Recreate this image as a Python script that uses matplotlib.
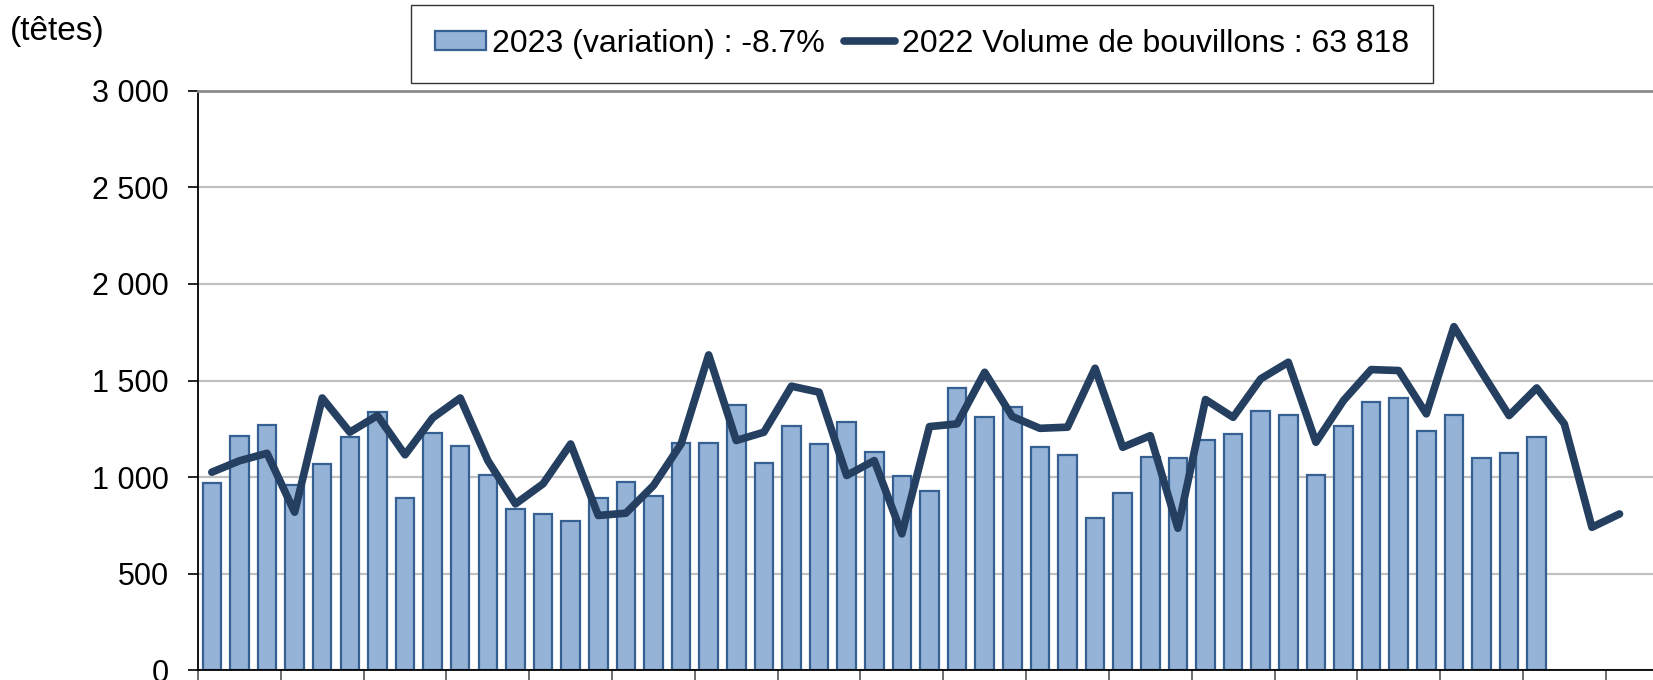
import matplotlib.pyplot as plt
import matplotlib
import numpy as np

matplotlib.rc('font', family=['Liberation Sans', 'DejaVu Sans'])

# semaines
semaines_2023 = list(range(1, 50))
semaines_2022 = list(range(1, 53))

# volumes 2023 (barres)
volume_2023 = [969, 1212, 1272, 962, 1069, 1210, 1338, 893, 1231, 1159,
               1014, 836, 809, 776, 890, 976, 902, 1178, 1179, 1376,
               1074, 1266, 1174, 1284, 1133, 1005, 928, 1462, 1314, 1362,
               1155, 1114, 791, 919, 1105, 1102, 1195, 1224, 1341, 1322,
               1014, 1264, 1391, 1409, 1238, 1324, 1102, 1126, 1209]

# volumes 2022 (ligne)
volume_2022 = [1026, 1085, 1124, 819, 1410, 1233, 1319, 1116, 1307, 1410,
               1086, 862, 966, 1172, 802, 814, 957, 1172, 1633, 1190,
               1233, 1471, 1440, 1009, 1086, 707, 1262, 1276, 1543, 1314,
               1253, 1259, 1564, 1155, 1215, 736, 1402, 1310, 1509, 1595,
               1181, 1397, 1557, 1552, 1328, 1779, 1545, 1319, 1462, 1276,
               741, 810]

label_2023 = '2023 (variation) : -8.7%'
label_2022 = '2022 Volume de bouvillons : 63 818'
y_ticks = [0, 500, 1000, 1500, 2000, 2500, 3000]
y_labels = ['0', '500', '1 000', '1 500', '2 000', '2 500', '3 000']

fig = plt.figure(figsize=(16.53, 6.8), dpi=100)
ax = fig.add_axes([0.1198, 0.014, 0.885, 0.8526])

x23 = np.array(semaines_2023) - 1
x22 = np.array(semaines_2022) - 1

bars = ax.bar(x23, volume_2023, width=0.67, color='#95B3D7',
              edgecolor='#366092', linewidth=1.6, label=label_2023, zorder=2)
line, = ax.plot(x22, volume_2022, color='#243F60', linewidth=5.5,
                solid_joinstyle='round', solid_capstyle='round',
                label=label_2022, zorder=3)

ax.set_xlim(-0.5, 52.5)
ax.set_ylim(0, 3000)

# axe y
ax.set_yticks(y_ticks)
ax.set_yticklabels(y_labels, fontsize=22)
ax.tick_params(axis='y', length=7, width=1.2, pad=14, direction='out')
ax.yaxis.grid(True, color='#C0C0C0', linewidth=1.6, zorder=0)
ax.set_axisbelow(True)

# axe x : graduations toutes les 3 semaines, libellés hors image
ax.set_xticks(np.arange(-0.5, 53, 3))
ax.set_xticklabels([])
ax.tick_params(axis='x', length=12, width=1.2, color='#555555', direction='out')

ax.spines['right'].set_visible(False)
ax.spines['top'].set_color('#8C8C8C')
ax.spines['top'].set_linewidth(2)
ax.spines['left'].set_linewidth(1.3)
ax.spines['bottom'].set_linewidth(1.3)

fig.text(0.006, 0.953, '(têtes)', fontsize=24, ha='left', va='center')

leg = fig.legend(handles=[bars, line], labels=[label_2023, label_2022],
                 loc='center', bbox_to_anchor=(0.5577, 0.9357), ncol=2,
                 fontsize=23, frameon=True, fancybox=False, edgecolor='black',
                 handlelength=1.6, handleheight=0.55, handletextpad=0.2,
                 columnspacing=0.6, borderpad=0.75, borderaxespad=0)
leg.get_frame().set_linewidth(1.0)

plt.savefig('out.png', dpi=100)
